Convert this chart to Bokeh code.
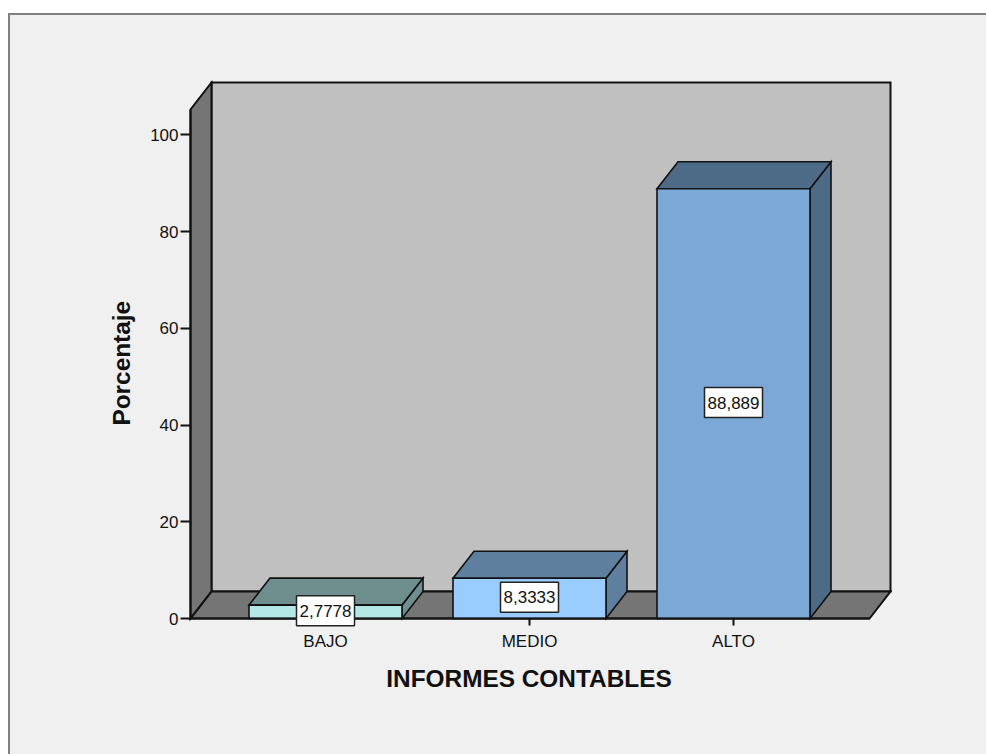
from bokeh.plotting import figure
from bokeh.models import FixedTicker, Label
from bokeh.embed import file_html
from bokeh.resources import INLINE

categories = ["BAJO", "MEDIO", "ALTO"]
values = [2.7778, 8.3333, 88.889]
value_labels = ["2,7778", "8,3333", "88,889"]
y_ticks = [0, 20, 40, 60, 80, 100]
x_title = "INFORMES CONTABLES"
y_title = "Porcentaje"
front_colors = ["#b3e8e6", "#99ccff", "#7ba8d6"]
shade_colors = ["#6f8f8e", "#5f7f9f", "#4d6b87"]

FONT = "Liberation Sans"
W, H = 978, 741
X0, X1 = -1.4461, 2.7794     # frame range (wider than the 3D box, so titles stay inside)
Y0, Y1 = -23.16, 111.27
XL, XW, YW = -0.6618, 2.7696, 110.86   # extent of the 3D box
DX, DY = 21 / 204, 27 / 4.835          # 3D depth in data units
BW = 0.75
WALL_TOP = YW - DY

p = figure(width=W, height=H, output_backend="svg", toolbar_location=None,
           x_range=(X0, X1), y_range=(Y0, Y1), margin=(13, 0, 0, 8),
           min_border_left=20, min_border_right=96, min_border_top=65, min_border_bottom=26,
           background_fill_color=None, border_fill_color=None, outline_line_color=None,
           styles={"border-top": "2px solid #808080", "border-left": "2px solid #808080",
                   "box-sizing": "border-box", "background-color": "#f0f0f0"})
p.grid.visible = False

LINE = dict(line_color="#111111", line_width=2, line_join="miter")
xl, xr = XL, XW
# back wall, side wall, floor
p.patch([xl + DX, xr, xr, xl + DX], [DY, DY, YW, YW], fill_color="#c0c0c0", **LINE)
p.patch([xl, xl + DX, xl + DX, xl], [0, DY, YW, WALL_TOP], fill_color="#757575", **LINE)
p.patch([xl, xr - DX, xr, xl + DX], [0, 0, DY, DY], fill_color="#757575", **LINE)

BAR = dict(line_color="#111111", line_width=1.6, line_join="miter")
for i, v in enumerate(values):
    l, r = i - BW / 2, i + BW / 2
    p.patch([r, r + DX, r + DX, r], [0, DY, v + DY, v], fill_color=shade_colors[i], **BAR)
    p.patch([l, r, r + DX, l + DX], [v, v, v + DY, v + DY], fill_color=shade_colors[i], **BAR)
    p.patch([l, r, r, l], [0, 0, v, v], fill_color=front_colors[i], **BAR)

for i, v in enumerate(values):
    p.add_layout(Label(x=i, y=v / 2, y_offset=1, text=value_labels[i], text_font=FONT, text_font_size="17px",
                       text_color="#111111", text_align="center", text_baseline="middle",
                       background_fill_color="white", border_line_color="#222222", border_line_width=1.5,
                       padding=(3, 9), level="overlay"))

# axis titles are centred on the front edges of the box
p.add_layout(Label(x=(XL + XW - DX) / 2 - 0.005, y=-12.4, text=x_title, text_font=FONT, text_font_size="24.4px",
                   text_font_style="bold", text_color="#111111", text_align="center", text_baseline="middle"))
p.add_layout(Label(x=-1.0, y=52.8, text=y_title, text_font=FONT, text_font_size="24.4px", angle=90,
                   angle_units="deg", text_font_style="bold", text_color="#111111",
                   text_align="center", text_baseline="middle"))

xa = p.xaxis[0]
xa.fixed_location = 0
xa.bounds = (XL, XW - DX)
xa.ticker = FixedTicker(ticks=list(range(len(categories))))
xa.major_label_overrides = {i: c for i, c in enumerate(categories)}
xa.major_label_text_font = FONT
xa.major_label_text_font_size = "17px"
xa.major_label_text_color = "#111111"
xa.major_label_standoff = 6
xa.major_tick_out = 7
xa.major_tick_in = 0
xa.minor_tick_line_color = None
xa.axis_line_color = "#111111"
xa.axis_line_width = 2
xa.major_tick_line_color = "#111111"
xa.major_tick_line_width = 2

ya = p.yaxis[0]
ya.fixed_location = XL
ya.bounds = (0, WALL_TOP)
ya.ticker = FixedTicker(ticks=y_ticks)
ya.major_label_text_font = FONT
ya.major_label_text_font_size = "17px"
ya.major_label_text_color = "#111111"
ya.major_label_standoff = 2
ya.major_tick_out = 10
ya.major_tick_in = 0
ya.minor_tick_line_color = None
ya.axis_line_color = "#111111"
ya.axis_line_width = 2
ya.major_tick_line_color = "#111111"
ya.major_tick_line_width = 2

open("out.html", "w").write(file_html(p, INLINE))
